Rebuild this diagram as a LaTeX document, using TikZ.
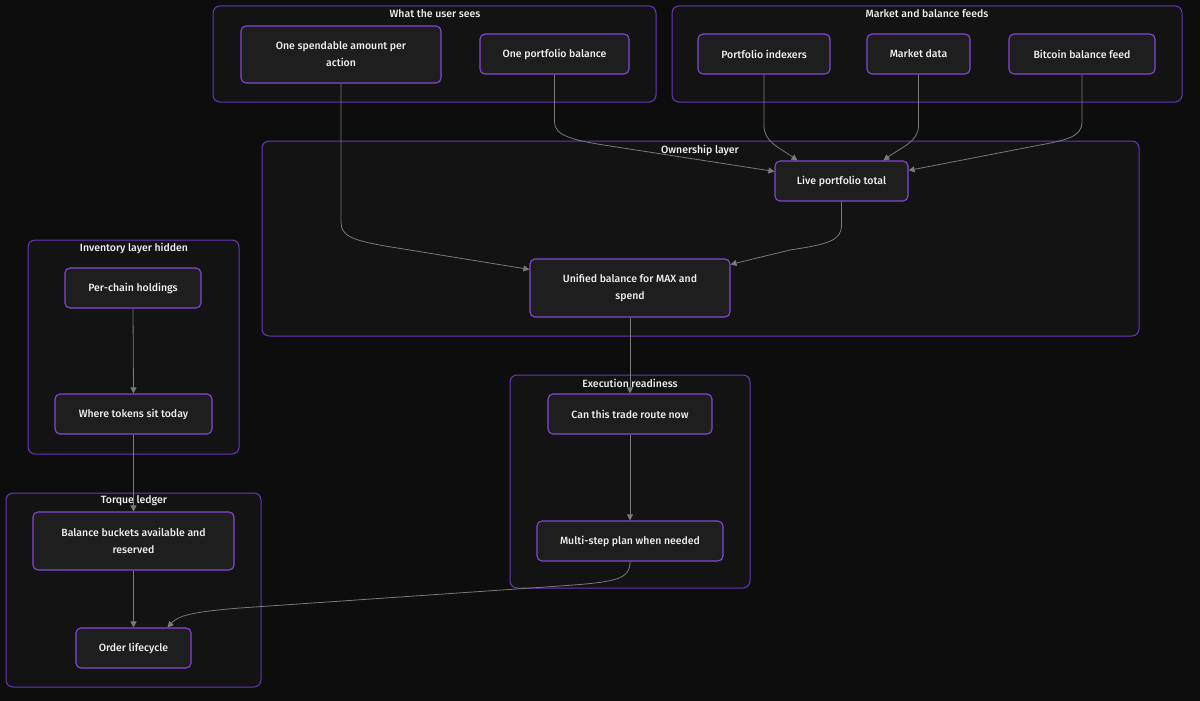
\documentclass[tikz,border=0pt]{standalone}
\usepackage{fontspec}
\setmainfont{Fira Sans Medium}
\usetikzlibrary{arrows.meta,calc}
\definecolor{bgc}{HTML}{0D0D0D}
\definecolor{clfill}{HTML}{131313}
\definecolor{clline}{HTML}{6A36BE}
\definecolor{ndfill}{HTML}{1E1E1E}
\definecolor{ndline}{HTML}{8547D6}
\definecolor{txt}{HTML}{F0F0F0}
\definecolor{edgec}{HTML}{7A7A7A}
\begin{document}
\begin{tikzpicture}[x=1pt,y=-1pt,
  cluster/.style={draw=clline,fill=clfill,line width=1pt,rounded corners=7pt},
  ctitle/.style={text=txt,font=\fontsize{10.5}{12}\selectfont,inner sep=0pt},
  box/.style={draw=ndline,fill=ndfill,line width=1.1pt,rounded corners=5pt,text=txt,
    font=\fontsize{10.5}{17}\selectfont,align=center,inner sep=0pt},
  edge/.style={draw=edgec,line width=0.8pt,-{Triangle[length=6pt,width=6pt]}}]
\fill[bgc] (0,0) rectangle (1200,701);
\useasboundingbox (0,0) rectangle (1200,701);
% clusters
\draw[cluster] (213,6) rectangle (656,102);
\node[ctitle] (t1) at (435,14) {What the user sees};
\draw[cluster] (672,6) rectangle (1182,102);
\node[ctitle] (t2) at (927,14) {Market and balance feeds};
\draw[cluster] (262,141) rectangle (1139,336);
\node[ctitle] (t3) at (700,150) {Ownership layer};
\draw[cluster] (28,240) rectangle (239,454);
\node[ctitle] (t4) at (134,248) {Inventory layer hidden};
\draw[cluster] (6,493) rectangle (261,687);
\node[ctitle] (t5) at (134,501) {Torque ledger};
\draw[cluster] (510,375) rectangle (750,588);
\node[ctitle] (t6) at (630,383) {Execution readiness};
% nodes
\node[box,minimum width=200pt,minimum height=57pt] (sp) at (341,54.5) {One spendable amount per\\action};
\node[box,minimum width=149pt,minimum height=40pt] (pb) at (554.5,54) {One portfolio balance};
\node[box,minimum width=132pt,minimum height=40pt] (pi) at (764,54) {Portfolio indexers};
\node[box,minimum width=103pt,minimum height=40pt] (md) at (918.5,54) {Market data};
\node[box,minimum width=146pt,minimum height=40pt] (bf) at (1082,54) {Bitcoin balance feed};
\node[box,minimum width=133pt,minimum height=40pt] (lt) at (841.5,181) {Live portfolio total};
\node[box,minimum width=200pt,minimum height=58pt] (ub) at (630,288) {Unified balance for MAX and\\spend};
\node[box,minimum width=136pt,minimum height=40pt] (pc) at (133,288) {Per-chain holdings};
\node[box,minimum width=157pt,minimum height=40pt] (wt) at (133.5,414) {Where tokens sit today};
\node[box,minimum width=201pt,minimum height=58pt] (bb) at (133.5,541) {Balance buckets available and\\reserved};
\node[box,minimum width=115pt,minimum height=40pt] (ol) at (133.5,648) {Order lifecycle};
\node[box,minimum width=164pt,minimum height=40pt] (ct) at (630,414) {Can this trade route now};
\node[box,minimum width=186pt,minimum height=40pt] (ms) at (630,541) {Multi-step plan when needed};
% edges
\draw[edge] (sp.south) -- (341,222) .. controls (341,236) and (352,240) .. (385,246) -- ($(ub.north west)+(0,11)$);
\draw[edge] (pb.south) -- (554.5,122) .. controls (554.5,135) and (570,140) .. (610,146) -- ($(lt.north west)+(0,11)$);
\draw[edge] (pi.south) -- (764,126) .. controls (764,142) and (780,148) .. ($(lt.north west)+(23,0)$);
\draw[edge] (md.south) -- (918.5,126) .. controls (918.5,142) and (900,148) .. ($(lt.north west)+(109,0)$);
\draw[edge] (bf.south) -- (1082,122) .. controls (1082,136) and (1068,140) .. (1040,145) -- ($(lt.north east)+(0,10)$);
\draw[edge] (lt.south) -- (841.5,225) .. controls (841.5,240) and (830,244) .. (790,250) -- ($(ub.north east)+(0,6)$);
\draw[edge] (ub.south) -- (ct.north);
\draw[edge] (ct.south) -- (ms.north);
\draw[edge] (pc.south) -- (wt.north);
\draw[edge] (wt.south) -- (bb.north);
\draw[edge] (bb.south) -- (ol.north);
\draw[edge] (ms.south) .. controls (630,580) and (615,582) .. (560,586) -- (240,608) .. controls (190,612) and (178,616) .. ($(ol.north west)+(92,0)$);
\end{tikzpicture}
\end{document}
